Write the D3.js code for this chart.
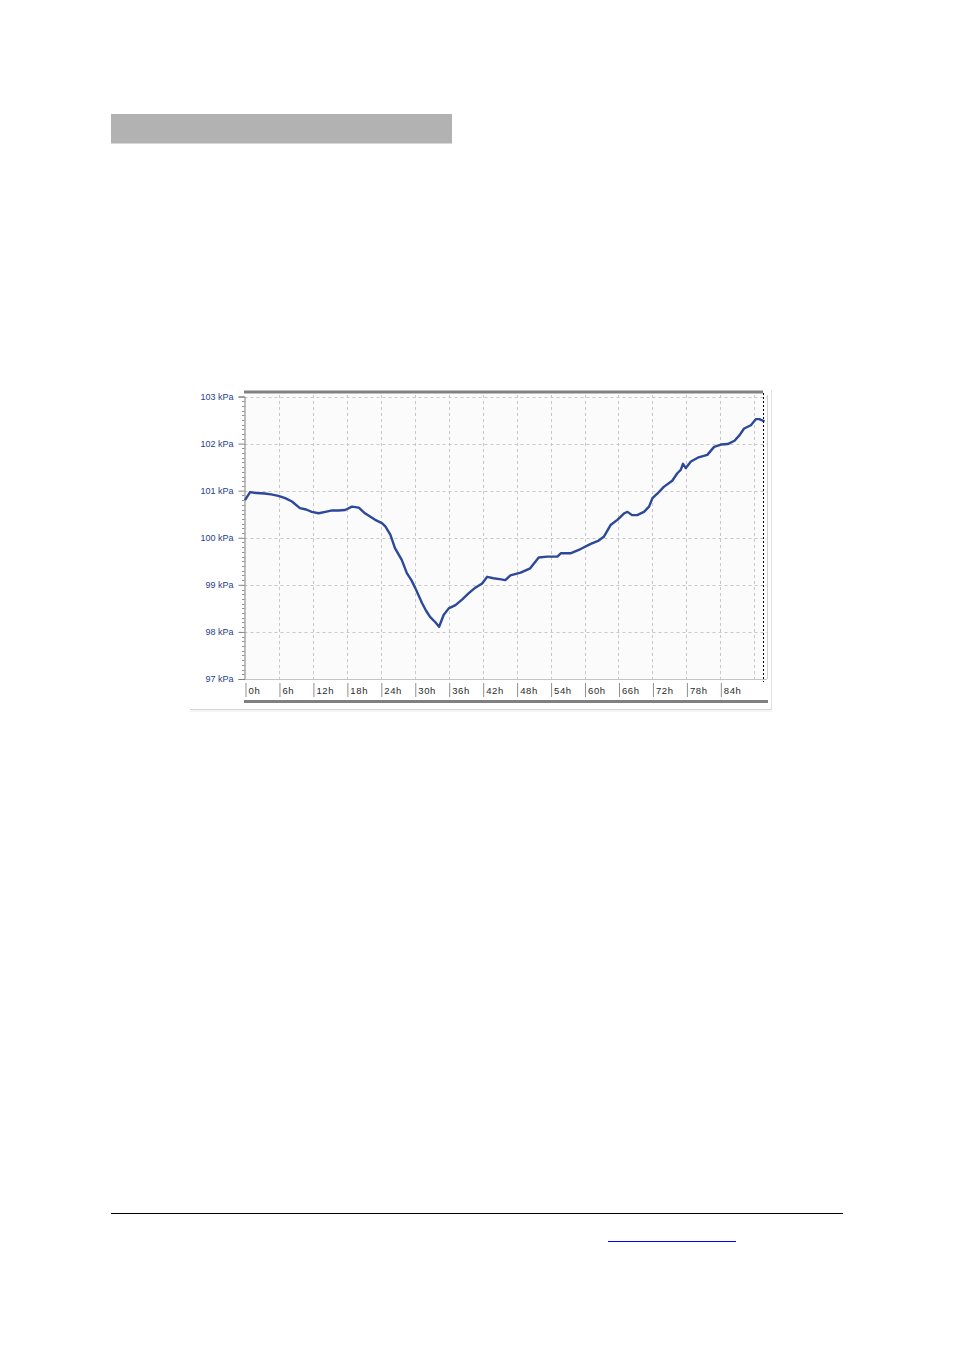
<!DOCTYPE html>
<html><head><meta charset="utf-8">
<script src="https://cdn.jsdelivr.net/npm/d3@7"></script>
<style>html,body{margin:0;padding:0;background:#fff;} svg{display:block;}</style>
</head><body>
<script>
// Data: time (hours) and pressure (kPa)
const hours = [0,0.9,2.0,3.5,4.6,5.9,7.1,8.3,9.7,10.8,11.8,13.0,14.2,15.4,16.5,17.7,18.9,20.1,21.2,22.1,23.0,24.2,24.8,25.7,26.5,27.7,28.6,29.4,30.1,31.3,32.0,32.7,33.6,34.3,35.1,36.0,37.2,38.4,39.5,40.7,41.9,42.8,43.9,45.0,46.0,46.9,48.7,50.4,51.9,53.4,55.2,55.8,57.5,59.3,61.1,62.5,63.4,64.6,65.8,67.0,67.6,68.4,69.3,70.5,71.4,72.0,72.9,74.0,75.5,76.4,77.0,77.4,77.9,78.8,80.0,81.7,82.9,84.1,85.3,86.5,87.4,88.2,89.4,90.3,90.9,91.8];
const kPa = [100.80,100.97,100.95,100.94,100.92,100.89,100.84,100.77,100.63,100.60,100.55,100.52,100.55,100.58,100.58,100.59,100.66,100.64,100.52,100.45,100.38,100.31,100.24,100.06,99.78,99.53,99.25,99.10,98.93,98.61,98.45,98.32,98.21,98.11,98.36,98.50,98.57,98.69,98.82,98.94,99.03,99.17,99.14,99.12,99.10,99.20,99.26,99.35,99.58,99.60,99.60,99.67,99.67,99.76,99.87,99.94,100.02,100.27,100.38,100.52,100.55,100.48,100.48,100.55,100.66,100.84,100.94,101.08,101.21,101.37,101.44,101.57,101.48,101.62,101.70,101.76,101.93,101.98,101.99,102.06,102.18,102.32,102.39,102.52,102.52,102.47];
const yTicks = [97,98,99,100,101,102,103];
const yTickLabels = ["97 kPa","98 kPa","99 kPa","100 kPa","101 kPa","102 kPa","103 kPa"];
const xTicks = [0,6,12,18,24,30,36,42,48,54,60,66,72,78,84,90];
const xTickLabels = ["0h","6h","12h","18h","24h","30h","36h","42h","48h","54h","60h","66h","72h","78h","84h",""];

const W = 954, H = 1350;
const svg = d3.select("body").append("svg").attr("width", W).attr("height", H);

// page decorations
svg.append("rect").attr("x",111).attr("y",114).attr("width",341).attr("height",29.5).attr("fill","#b2b2b2");
svg.append("line").attr("x1",111).attr("x2",843).attr("y1",1213.5).attr("y2",1213.5).attr("stroke","#000").attr("stroke-width",1.2);
svg.append("line").attr("x1",608).attr("x2",736).attr("y1",1241.5).attr("y2",1241.5).attr("stroke","#0000ff").attr("stroke-width",1);

// chart geometry
const x = d3.scaleLinear().domain([0,90]).range([245,754.3]);
const y = d3.scaleLinear().domain([97,103]).range([679,396.5]);
const plotL = 244.5, plotR = 767, plotT = 395, plotB = 679;

// outer frame shadow
svg.append("line").attr("x1",190).attr("x2",772).attr("y1",709.5).attr("y2",709.5).attr("stroke","#d4d4d4");
svg.append("line").attr("x1",190).attr("x2",772).attr("y1",711).attr("y2",711).attr("stroke","#ececec");
svg.append("line").attr("x1",771.5).attr("x2",771.5).attr("y1",390).attr("y2",710).attr("stroke","#e0e0e0");

// plot background
svg.append("rect").attr("x",plotL).attr("y",plotT).attr("width",plotR-plotL).attr("height",plotB-plotT).attr("fill","#fbfbfb");

// grid
const g = svg.append("g");
g.selectAll(".hg").data(yTicks.filter(d=>d>97)).enter().append("line")
 .attr("x1",plotL).attr("x2",plotR).attr("y1",d=>Math.round(y(d))+0.5).attr("y2",d=>Math.round(y(d))+0.5)
 .attr("stroke","#c8c8c8").attr("stroke-dasharray","3,3");
g.selectAll(".vg").data(xTicks.filter(d=>d>0)).enter().append("line")
 .attr("x1",d=>Math.round(x(d))+0.5).attr("x2",d=>Math.round(x(d))+0.5).attr("y1",plotT).attr("y2",plotB)
 .attr("stroke","#c8c8c8").attr("stroke-dasharray","3,3");

// plot right border and bottom axis line
svg.append("line").attr("x1",plotR+0.5).attr("x2",plotR+0.5).attr("y1",plotT).attr("y2",plotB).attr("stroke","#d0d0d0");
svg.append("line").attr("x1",plotL).attr("x2",plotR).attr("y1",plotB+0.5).attr("y2",plotB+0.5).attr("stroke","#c4c4c4");

// top and bottom thick bars
svg.append("rect").attr("x",244).attr("y",390.5).attr("width",519).attr("height",3).attr("fill","#808080");
svg.append("rect").attr("x",244).attr("y",700).attr("width",524).attr("height",3).attr("fill","#808080");

// y axis with minor ticks
const yAxis = d3.axisLeft(y).tickValues(yTicks).tickFormat((d,i)=>yTickLabels[i]).tickSize(6).tickPadding(5);
const ya = svg.append("g").attr("transform",`translate(${plotL},0)`).call(yAxis);
ya.select(".domain").attr("stroke","#808080");
ya.selectAll(".tick line").attr("stroke","#808080");
ya.selectAll(".tick text").attr("fill","#24408e").style("font-family","Liberation Sans, Arial, sans-serif").style("font-size","9px");
const minor = d3.range(970,1031).map(v=>v/10).filter(v=>Math.abs(v-Math.round(v))>0.01);
svg.append("g").selectAll("line").data(minor).enter().append("line")
 .attr("x1",plotL-2.5).attr("x2",plotL).attr("y1",d=>Math.round(y(d))+0.5).attr("y2",d=>Math.round(y(d))+0.5)
 .attr("stroke","#909090");

// x axis ticks and labels
const xAxis = d3.axisBottom(x).tickValues(xTicks).tickFormat((d,i)=>xTickLabels[i]).tickSize(0);
const xa = svg.append("g").attr("transform",`translate(0,${plotB})`).call(xAxis);
xa.select(".domain").remove();
xa.selectAll(".tick").each(function(d,i){
  const t = d3.select(this);
  if (xTickLabels[i] !== "") {
    t.append("line").attr("x1",0.5).attr("x2",0.5).attr("y1",4).attr("y2",18).attr("stroke","#909090");
  }
  t.select("text").attr("text-anchor","start").attr("x",3).attr("y",8).attr("dy","0.71em")
   .attr("fill","#2a2a2a").style("font-family","Liberation Sans, Arial, sans-serif").style("font-size","9.5px")
   .style("letter-spacing","0.6px");
});

// data line
const line = d3.line().x((d,i)=>x(hours[i])).y((d,i)=>y(kPa[i]));
svg.append("path").datum(kPa).attr("d",line).attr("fill","none").attr("stroke","#2c4898").attr("stroke-width",2.4).attr("stroke-linejoin","round");

// dotted cursor line
svg.append("line").attr("x1",763.5).attr("x2",763.5).attr("y1",393).attr("y2",682).attr("stroke","#000").attr("stroke-dasharray","2,2");
</script>
</body></html>
